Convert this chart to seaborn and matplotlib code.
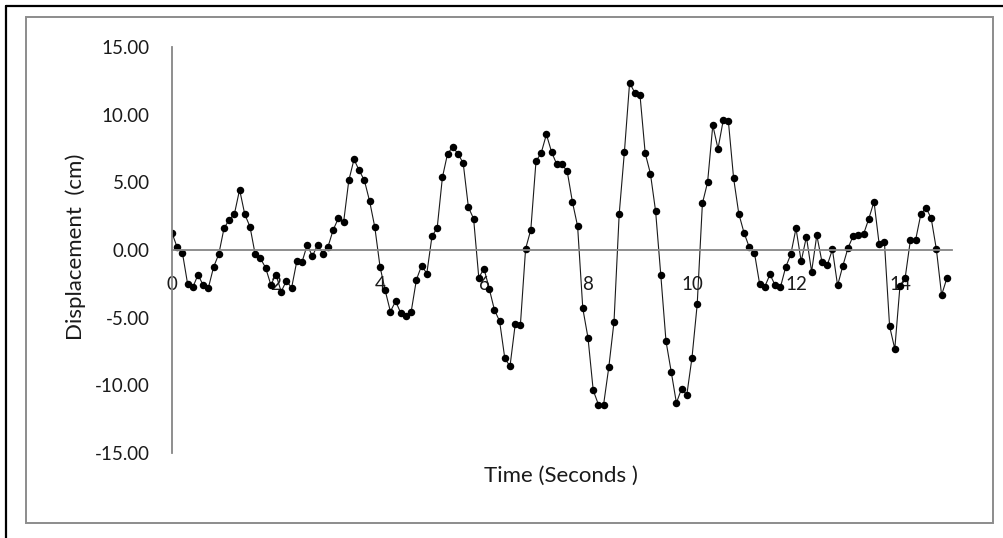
import matplotlib
matplotlib.use("Agg")
import matplotlib.pyplot as plt
from matplotlib.lines import Line2D
from matplotlib.patches import Rectangle
import numpy as np
import pandas as pd
import seaborn as sns

# Sampled displacement record (0.1 s steps)
time_s = [
    0.0, 0.1, 0.2, 0.3, 0.4, 0.5, 0.6, 0.7, 0.8, 0.9,
    1.0, 1.1, 1.2, 1.3, 1.4, 1.5, 1.6, 1.7, 1.8, 1.9,
    2.0, 2.1, 2.2, 2.3, 2.4, 2.5, 2.6, 2.7, 2.8, 2.9,
    3.0, 3.1, 3.2, 3.3, 3.4, 3.5, 3.6, 3.7, 3.8, 3.9,
    4.0, 4.1, 4.2, 4.3, 4.4, 4.5, 4.6, 4.7, 4.8, 4.9,
    5.0, 5.1, 5.2, 5.3, 5.4, 5.5, 5.6, 5.7, 5.8, 5.9,
    6.0, 6.1, 6.2, 6.3, 6.4, 6.5, 6.6, 6.7, 6.8, 6.9,
    7.0, 7.1, 7.2, 7.3, 7.4, 7.5, 7.6, 7.7, 7.8, 7.9,
    8.0, 8.1, 8.2, 8.3, 8.4, 8.5, 8.6, 8.7, 8.8, 8.9,
    9.0, 9.1, 9.2, 9.3, 9.4, 9.5, 9.6, 9.7, 9.8, 9.9,
    10.0, 10.1, 10.2, 10.3, 10.4, 10.5, 10.6, 10.7, 10.8, 10.9,
    11.0, 11.1, 11.2, 11.3, 11.4, 11.5, 11.6, 11.7, 11.8, 11.9,
    12.0, 12.1, 12.2, 12.3, 12.4, 12.5, 12.6, 12.7, 12.8, 12.9,
    13.0, 13.1, 13.2, 13.3, 13.4, 13.5, 13.6, 13.7, 13.8, 13.9,
    14.0, 14.1, 14.2, 14.3, 14.4, 14.5, 14.6, 14.7, 14.8, 14.9,
]

displacement_cm = [
    1.26, 0.19, -0.20, -2.50, -2.76, -1.83, -2.60, -2.79, -1.26, -0.30,
    1.60, 2.24, 2.66, 4.46, 2.63, 1.72, -0.33, -0.62, -1.31, -2.56,
    -1.83, -3.08, -2.27, -2.80, -0.83, -0.90, 0.38, -0.46, 0.38, -0.26,
    0.24, 1.49, 2.35, 2.05, 5.14, 6.69, 5.88, 5.14, 3.61, 1.69,
    -1.22, -2.99, -4.55, -3.78, -4.67, -4.91, -4.55, -2.20, -1.15, -1.74,
    1.02, 1.64, 5.36, 7.13, 7.60, 7.11, 6.42, 3.16, 2.31, -2.05,
    -1.37, -2.85, -4.42, -5.26, -8.00, -8.59, -5.50, -5.53, 0.09, 1.49,
    6.56, 7.17, 8.54, 7.24, 6.32, 6.32, 5.82, 3.56, 1.76, -4.32,
    -6.49, -10.36, -11.42, -11.42, -8.66, -5.31, 2.66, 7.24, 12.36, 11.62,
    11.44, 7.15, 5.65, 2.87, -1.86, -6.74, -8.99, -11.30, -10.24, -10.71,
    -7.95, -4.02, 3.44, 5.01, 9.22, 7.48, 9.57, 9.50, 5.31, 2.68,
    1.28, 0.22, -0.20, -2.49, -2.71, -1.80, -2.62, -2.76, -1.29, -0.32,
    1.60, -0.84, 0.98, -1.60, 1.09, -0.89, -1.14, 0.04, -2.62, -1.18,
    0.15, 1.04, 1.13, 1.18, 2.31, 3.57, 0.41, 0.61, -5.64, -7.31,
    -2.63, -2.04, 0.74, 0.74, 2.63, 3.13, 2.34, 0.04, -3.33, -2.10,
]

x_ticks = [0, 2, 4, 6, 8, 10, 12, 14]
y_ticks = [-15, -10, -5, 0, 5, 10, 15]

df = pd.DataFrame({"Time": time_s, "Displacement": displacement_cm})

sns.set_theme(style="white")
plt.rcParams["font.family"] = ["Lato", "DejaVu Sans"]

W, H = 1004, 538
fig = plt.figure(figsize=(W / 100, H / 100), dpi=100)
ax = fig.add_axes([172 / W, 1 - 453 / H, (952 - 172) / W, (453 - 47) / H])

sns.lineplot(
    data=df, x="Time", y="Displacement", ax=ax,
    estimator=None, sort=False,
    color="#1a1a1a", linewidth=0.8,
    marker="o", markersize=5.4, markerfacecolor="black",
    markeredgecolor="black", markeredgewidth=0,
)

ax.set_xlim(0, 15)
ax.set_ylim(-15, 15)
ax.set_xticks(x_ticks)
ax.set_xticklabels([str(v) for v in x_ticks])
ax.set_yticks(y_ticks)
ax.set_yticklabels([f"{v:.2f}" for v in y_ticks])

axis_grey = "#868686"
for side in ("top", "right"):
    ax.spines[side].set_visible(False)
ax.spines["left"].set_position(("data", 0))
ax.spines["bottom"].set_position(("data", 0))
for side in ("left", "bottom"):
    ax.spines[side].set_color(axis_grey)
    ax.spines[side].set_linewidth(1.3)

ax.tick_params(axis="x", length=0, pad=19, labelsize=13.5, colors="#1a1a1a")
ax.tick_params(axis="y", length=0, pad=16, labelsize=13.5, colors="#1a1a1a")
ax.set_xlabel("")
ax.set_ylabel("")
ax.grid(False)

fig.text(561 / W, 1 - 476 / H, "Time (Seconds )", ha="center", va="center",
         fontsize=16, color="#1a1a1a")
fig.text(76 / W, 1 - 247 / H, "Displacement  (cm)", ha="center", va="center",
         rotation=90, fontsize=16, color="#1a1a1a")

# Chart area border and outer frame
fig.patches.append(Rectangle((26.5 / W, 1 - 523 / H), (993 - 26.5) / W, (523 - 16.5) / H,
                             transform=fig.transFigure, fill=False,
                             edgecolor="#8c8c8c", linewidth=1.4))
fig.lines.append(Line2D([5.5 / W, 5.5 / W], [0, 1 - 5.5 / H], transform=fig.transFigure,
                        color="black", linewidth=1.6))
fig.lines.append(Line2D([5.5 / W, 1], [1 - 5.5 / H, 1 - 5.5 / H], transform=fig.transFigure,
                        color="black", linewidth=1.6))

fig.savefig("out.png", dpi=100, facecolor="white")
